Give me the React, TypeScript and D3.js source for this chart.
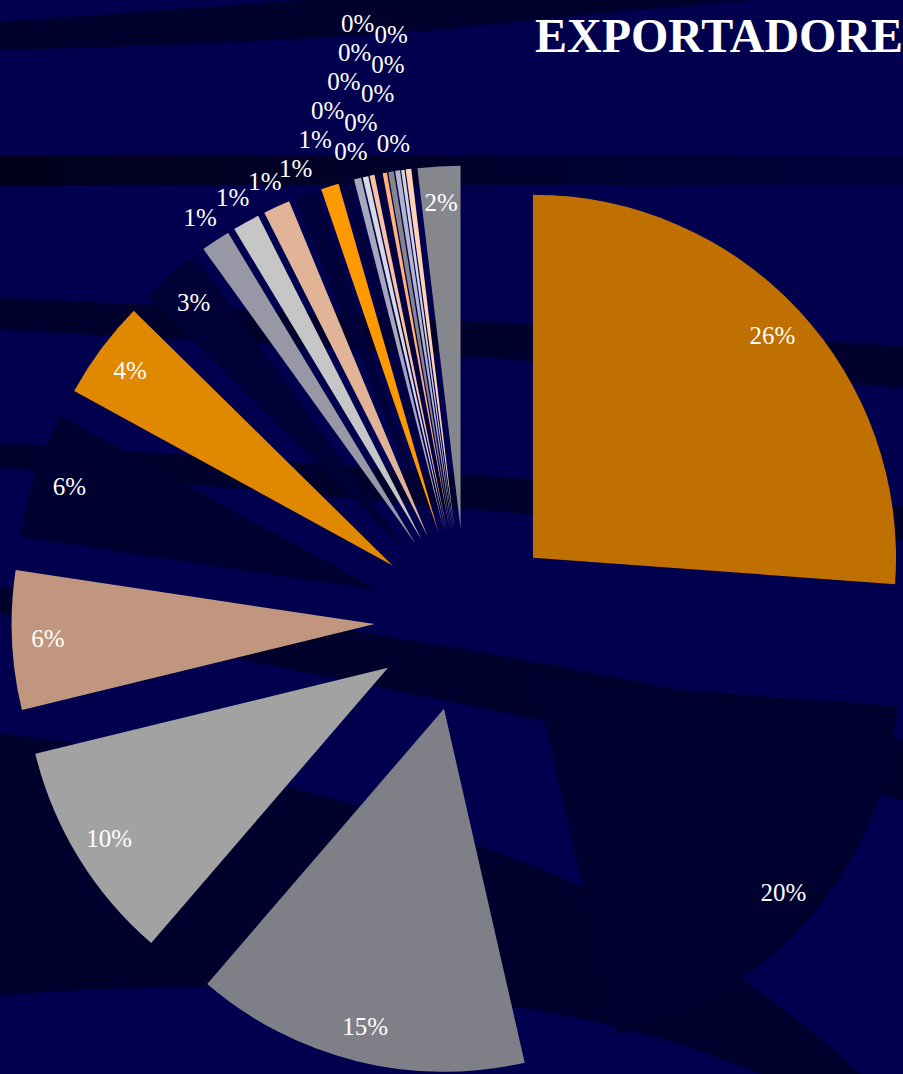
import * as d3 from "d3";
import { useEffect, useRef } from "react";

// slice shares (percent), clockwise from 12 o'clock
const shares = [
  26.2, 20.3, 14.9, 9.9, 6.2, 5.6, 4.4, 2.7, 1.3, 1.2, 1.2, 1.0, 0.8, 0.45,
  0.32, 0.25, 0.22, 0.25, 0.19, 0.25, 0.22, 0.15, 0.25, 1.9,
];

const sliceColors = [
  "#BF7000", "#00002E", "#7F7F88", "#A2A2A2", "#C0977E", "#000030",
  "#E08800", "#000036", "#9797A6", "#C6C6C6", "#E1B498", "#00003A",
  "#FF9900", "#00003C", "#A8A8BC", "#D8D8E0", "#F9C3A3", "#00003C",
  "#FFB27A", "#85858F", "#B4B4CC", "#D2D2E2", "#FFD2B4", "#86868D",
];

const title = "EXPORTADORE";

// decorative dark bands of the slide background
const bands = [
  "M0,22 L330,-2 L780,-2 Q600,12 440,30 Q250,44 0,50 Z",
  "M0,298 Q450,318 903,346 L903,388 Q450,352 0,330 Z",
  "M0,443 Q300,462 540,480 Q720,496 903,506 L903,540 Q720,530 540,515 Q300,494 0,468 Z",
  "M0,587 Q420,625 903,740 L903,800 Q420,690 0,614 Z",
  "M0,733 Q300,770 560,877 Q740,960 860,1074 L760,1074 Q500,960 0,995 Z",
];

const App = () => {
  const svgRef = useRef<SVGSVGElement | null>(null);

  useEffect(() => {
    const width = 903;
    const height = 1074;
    const cx = 466;
    const cy = 620;
    const radius = 363;
    const explode = 91.5;
    const font = "'Liberation Serif', 'Times New Roman', serif";

    const svg = d3.select(svgRef.current);
    svg.selectAll("*").remove();
    svg.attr("width", width).attr("height", height);

    // background
    const defs = svg.append("defs");
    const grad = defs
      .append("linearGradient")
      .attr("id", "bandFade")
      .attr("x1", "0")
      .attr("x2", "1")
      .attr("y1", "0")
      .attr("y2", "0");
    grad.append("stop").attr("offset", "0").attr("stop-color", "#00001C");
    grad.append("stop").attr("offset", "1").attr("stop-color", "#00003C");

    svg.append("rect").attr("width", width).attr("height", height).attr("fill", "#00004E");
    svg
      .append("rect")
      .attr("x", 0)
      .attr("y", 155)
      .attr("width", width)
      .attr("height", 30)
      .attr("fill", "url(#bandFade)");
    svg
      .append("g")
      .selectAll("path")
      .data(bands)
      .enter()
      .append("path")
      .attr("d", (d) => d)
      .attr("fill", "#000020")
      .attr("opacity", 0.7);

    // pie
    const total = d3.sum(shares);
    const pie = d3.pie<number>().sort(null).value((d) => d);
    const arcs = pie(shares);
    const arc = d3.arc<d3.PieArcDatum<number>>().innerRadius(0).outerRadius(radius);
    const pct = d3.format(".0%");

    const midAngle = (d: d3.PieArcDatum<number>) => (d.startAngle + d.endAngle) / 2;
    const apex = (d: d3.PieArcDatum<number>): [number, number] => {
      const m = midAngle(d);
      return [cx + Math.sin(m) * explode, cy - Math.cos(m) * explode];
    };

    svg
      .append("g")
      .selectAll("path")
      .data(arcs)
      .enter()
      .append("path")
      .attr("transform", (d) => `translate(${apex(d)})`)
      .attr("d", (d) => arc(d) as string)
      .attr("fill", (_, i) => sliceColors[i]);

    // labels: inside when they fit, otherwise outside, pushed out when they collide
    const fontSize = 25;
    const placed: { x: number; y: number; w: number; h: number }[] = [];
    const labels = arcs.map((d) => {
      const text = pct(d.data / total);
      const m = midAngle(d);
      const [ax, ay] = apex(d);
      const w = (0.5 * (text.length - 1) + 0.833) * fontSize * 0.9;
      const h = fontSize * 1.15;
      const inside = (d.endAngle - d.startAngle) * (radius - 36) >= w + 6;
      let r = inside ? radius - 36 : radius + 28;
      let x = 0;
      let y = 0;
      for (let k = 0; k < 400; k++) {
        x = ax + Math.sin(m) * r;
        y = ay - Math.cos(m) * r;
        if (inside) break;
        const hit = placed.some(
          (p) => Math.abs(p.x - x) < (p.w + w) / 2 && Math.abs(p.y - y) < (p.h + h) / 2
        );
        if (!hit) break;
        r += 1;
      }
      if (!inside) placed.push({ x, y, w, h });
      return { text, x, y };
    });

    svg
      .append("g")
      .selectAll("text")
      .data(labels)
      .enter()
      .append("text")
      .attr("x", (d) => d.x)
      .attr("y", (d) => d.y)
      .attr("dy", "0.35em")
      .attr("text-anchor", "middle")
      .attr("font-family", font)
      .attr("font-size", fontSize)
      .attr("fill", "#FFFFFF")
      .text((d) => d.text);

    // title
    svg
      .append("text")
      .attr("x", 535)
      .attr("y", 52)
      .attr("font-family", font)
      .attr("font-weight", "bold")
      .attr("font-size", 48)
      .attr("fill", "#FFFFFF")
      .text(title);
  }, []);

  return (
    <svg
      ref={svgRef}
      style={{ position: "absolute", left: 0, top: 0, display: "block" }}
    />
  );
};

export default App;
